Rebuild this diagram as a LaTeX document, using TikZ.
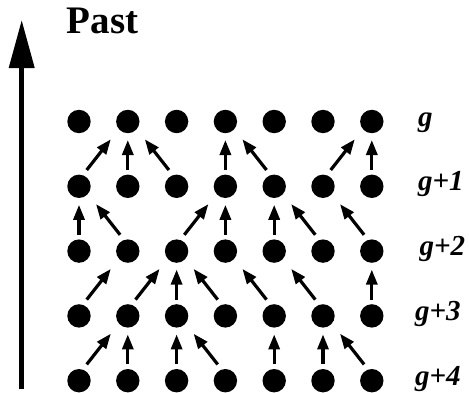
\documentclass[tikz,border=0pt]{standalone}
\usepackage{fontspec}
\setmainfont{Liberation Serif}
\usetikzlibrary{arrows.meta}

\tikzset{
  dot/.style={circle, fill=black, draw=none, minimum size=23.4pt, inner sep=0pt},
  arr/.style={line width=3.2pt, -{Triangle[length=15pt,width=11pt]}},
  bigarr/.style={line width=4.7pt, -{Triangle[length=48pt,width=24.7pt]}},
  % tail and tip offsets for the short arrows
  vtail/.style={shift={(0,16.3)}},
  vtip/.style={shift={(0,-18.5)}},
  netail/.style={shift={(7.7,16.3)}},
  netip/.style={shift={(-17,-17.8)}},
  nwtail/.style={shift={(-7.7,16.3)}},
  nwtip/.style={shift={(17,-17.8)}},
  gen/.style={anchor=base west, inner sep=0pt,
    font=\fontsize{29}{29}\selectfont\bfseries\itshape},
}

\begin{document}
\begin{tikzpicture}[x=1pt,y=1pt]
\useasboundingbox (0,0) rectangle (469,392);

% grid of individuals: rows 1 (top) to 5 (bottom), columns 1 to 7
\foreach \r/\yy in {1/270.5, 2/205.7, 3/140.9, 4/76.1, 5/11.3}{
  \foreach \c in {1,...,7}{
    \node[dot] (d\r\c) at ({79+48.8*(\c-1)}, \yy) {};
  }
}

% time axis
\coordinate (axbot) at (21.7,2.7);
\coordinate (axtop) at (21.7,372);
\draw[bigarr] (axbot) -- (axtop);
\node[anchor=base west, inner sep=0pt, font=\fontsize{39}{39}\selectfont\bfseries]
  (past) at (66.7,358.7) {Past};

% generation labels
\node[gen] (lg0) at (418,266)   {g};
\node[gen] (lg1) at (418,201.2) {g+1};
\node[gen] (lg2) at (419.3,136.4) {g+2};
\node[gen] (lg3) at (415,71.6)  {g+3};
\node[gen] (lg4) at (415,6.8)   {g+4};

% row 2 -> row 1
\draw[arr] ([netail]d21.center) -- ([netip]d12.center);
\draw[arr] ([vtail]d22.center)  -- ([vtip]d12.center);
\draw[arr] ([nwtail]d23.center) -- ([nwtip]d12.center);
\draw[arr] ([vtail]d24.center)  -- ([vtip]d14.center);
\draw[arr] ([nwtail]d25.center) -- ([nwtip]d14.center);
\draw[arr] ([netail]d26.center) -- ([netip]d17.center);
\draw[arr] ([vtail]d27.center)  -- ([vtip]d17.center);

% row 3 -> row 2
\draw[arr] ([vtail]d31.center)  -- ([vtip]d21.center);
\draw[arr] ([nwtail]d32.center) -- ([nwtip]d21.center);
\draw[arr] ([netail]d33.center) -- ([netip]d24.center);
\draw[arr] ([vtail]d34.center)  -- ([vtip]d24.center);
\draw[arr] ([vtail]d35.center)  -- ([vtip]d25.center);
\draw[arr] ([nwtail]d36.center) -- ([nwtip]d25.center);
\draw[arr] ([nwtail]d37.center) -- ([nwtip]d26.center);

% row 4 -> row 3
\draw[arr] ([netail]d41.center) -- ([netip]d32.center);
\draw[arr] ([netail]d42.center) -- ([netip]d33.center);
\draw[arr] ([vtail]d43.center)  -- ([vtip]d33.center);
\draw[arr] ([nwtail]d44.center) -- ([nwtip]d33.center);
\draw[arr] ([nwtail]d45.center) -- ([nwtip]d34.center);
\draw[arr] ([nwtail]d46.center) -- ([nwtip]d35.center);
\draw[arr] ([vtail]d47.center)  -- ([vtip]d37.center);

% row 5 -> row 4
\draw[arr] ([netail]d51.center) -- ([netip]d42.center);
\draw[arr] ([vtail]d52.center)  -- ([vtip]d42.center);
\draw[arr] ([vtail]d53.center)  -- ([vtip]d43.center);
\draw[arr] ([nwtail]d54.center) -- ([nwtip]d43.center);
\draw[arr] ([vtail]d55.center)  -- ([vtip]d45.center);
\draw[arr] ([vtail]d56.center)  -- ([vtip]d46.center);
\draw[arr] ([nwtail]d57.center) -- ([nwtip]d46.center);
\end{tikzpicture}
\end{document}
